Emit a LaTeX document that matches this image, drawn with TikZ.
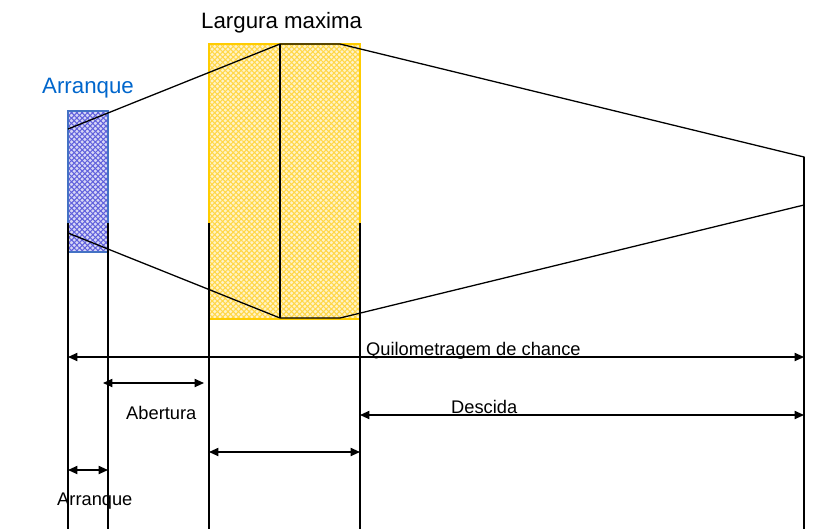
\documentclass[tikz,border=0pt]{standalone}
\usepackage{fontspec}
\setmainfont{Liberation Sans}
\usetikzlibrary{arrows.meta, patterns.meta}
\definecolor{arrblue}{RGB}{68,114,196}
\definecolor{meshblue}{RGB}{96,96,220}
\definecolor{labelblue}{RGB}{0,102,204}
\definecolor{largyellow}{RGB}{255,204,0}
\definecolor{meshyellow}{RGB}{255,215,70}

\begin{document}
\begin{tikzpicture}[
  x=0.03cm, y=-0.03cm,
  line/.style={line width=1.1pt},
  dim/.style={{Triangle[length=8pt,width=7pt]}-{Triangle[length=8pt,width=7pt]}, line width=1.1pt},
  meshA/.style={pattern={Lines[angle=45,distance=3.2pt,line width=0.9pt]}, pattern color=#1},
  meshB/.style={pattern={Lines[angle=-45,distance=3.2pt,line width=0.9pt]}, pattern color=#1},
  biglabel/.style={font=\fontsize{19}{22}\selectfont, inner sep=0pt, anchor=base west},
  dimlabel/.style={font=\fontsize{15.6}{18}\selectfont, inner sep=0pt, anchor=base west},
]
\useasboundingbox (0,0) rectangle (825,529);

% corners
\coordinate (a1) at (68,111);   \coordinate (a2) at (108,252);
\coordinate (l1) at (209,44);   \coordinate (l2) at (360,319);
\coordinate (ptl) at (68,129);  \coordinate (pbl) at (68,233);
\coordinate (mt) at (280,44);   \coordinate (mb) at (280,318);
\coordinate (nt) at (340,44);   \coordinate (nb) at (340,318);
\coordinate (rt) at (804,157);  \coordinate (rb) at (804,205);

% blocks
\fill[meshblue!25] (a1) rectangle (a2);
\fill[meshA=meshblue] (a1) rectangle (a2);
\fill[meshB=meshblue] (a1) rectangle (a2);
\draw[arrblue, line width=1pt] (a1) rectangle (a2);
\fill[meshyellow!30] (l1) rectangle (l2);
\fill[meshA=meshyellow] (l1) rectangle (l2);
\fill[meshB=meshyellow] (l1) rectangle (l2);
\draw[largyellow, line width=1pt] (l1) rectangle (l2);

% outline
\draw[line] (ptl) -- (mt) -- (nt) -- (rt) -- (rb) -- (nb) -- (mb) -- (pbl);
\draw[line] (mt) -- (mb);

% extension lines
\foreach \x/\y in {68/223, 108/223, 209/223, 360/223, 804/157}
  \draw[line] (\x,\y) -- (\x,529);

% dimensions
\coordinate (q1) at (68,357);   \coordinate (q2) at (804,357);
\coordinate (ab1) at (103,383); \coordinate (ab2) at (204,383);
\coordinate (d1) at (360,415);  \coordinate (d2) at (804,415);
\coordinate (w1) at (209,452);  \coordinate (w2) at (360,452);
\coordinate (s1) at (68,470);   \coordinate (s2) at (108,470);
\draw[dim] (q1) -- (q2);
\draw[dim] (ab1) -- (ab2);
\draw[dim] (d1) -- (d2);
\draw[dim] (w1) -- (w2);
\draw[dim] (s1) -- (s2);

% labels
\node[biglabel] (larg) at (201,28) {Largura maxima};
\node[biglabel, text=labelblue] (arrtop) at (42,93) {Arranque};
\node[dimlabel] (quil) at (366,355) {Quilometragem de chance};
\node[dimlabel] (aber) at (126,419) {Abertura};
\node[dimlabel] (desc) at (451,413) {Descida};
\node[dimlabel] (arrbot) at (57,505) {Arranque};

\end{tikzpicture}
\end{document}
